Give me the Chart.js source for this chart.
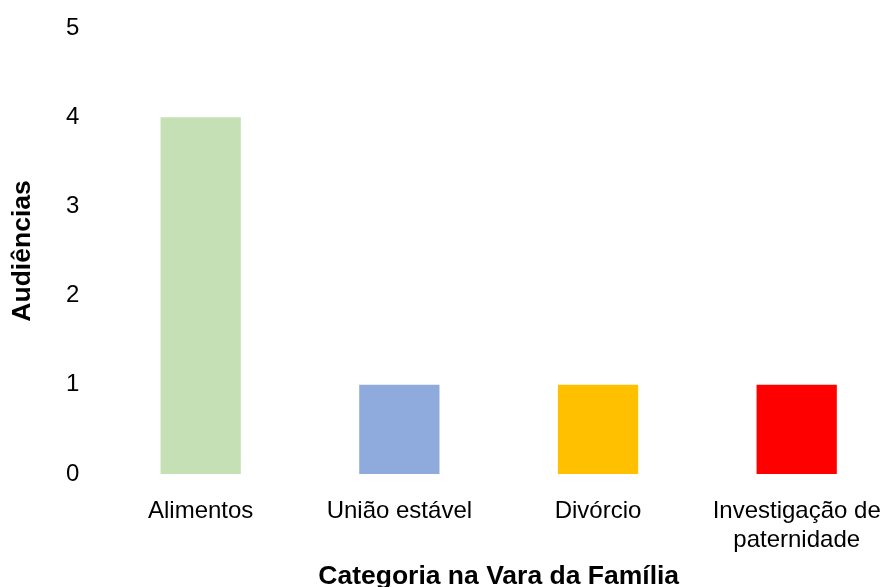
<!DOCTYPE html>
<html>
<head>
<meta charset="utf-8">
<script src="https://cdn.jsdelivr.net/npm/chart.js@4"></script>
<style>
  html, body { margin: 0; padding: 0; background: #fff; overflow: hidden; }
  #wrap { width: 904px; height: 590px; }
</style>
</head>
<body>
<div id="wrap"><canvas id="canva"></canvas></div>
<script>
const categories = ["Alimentos", "União estável", "Divórcio", ["Investigação de", "paternidade"]];
const audiencias = [4, 1, 1, 1];
const barColors = ["#C5E0B4", "#8FAADC", "#FFC000", "#FF0000"];
const yTicks = [0, 1, 2, 3, 4, 5];

const font = "'Liberation Sans', Arial, sans-serif";

const config = {
  type: "bar",
  data: {
    labels: categories,
    datasets: [
      {
        label: "Audiências",
        data: audiencias,
        backgroundColor: barColors,
        barPercentage: 0.404,
        categoryPercentage: 1,
      },
    ],
  },
  options: {
    responsive: true,
    maintainAspectRatio: false,
    animation: false,
    layout: { padding: { top: 1, right: 2, left: 9.5, bottom: 0 } },
    plugins: {
      legend: { display: false },
      tooltip: { enabled: false },
    },
    scales: {
      x: {
        grid: { display: false, drawTicks: false },
        border: { display: false },
        ticks: {
          color: "#000",
          font: { family: font, size: 24, lineHeight: 1.2 },
          padding: 23,
          maxRotation: 0,
        },
        title: {
          display: true,
          text: "Categoria na Vara da Família",
          color: "#000",
          font: { family: font, size: 26.5, weight: "bold", lineHeight: 1 },
          padding: { top: -14, bottom: 0 },
        },
      },
      y: {
        min: 0,
        max: 5,
        afterBuildTicks: (axis) => {
          axis.ticks = yTicks.map((v) => ({ value: v }));
        },
        grid: { display: false, drawTicks: false },
        border: { display: false },
        ticks: {
          color: "#000",
          font: { family: font, size: 24, lineHeight: 0.5 },
          padding: 22,
        },
        title: {
          display: true,
          text: "Audiências",
          color: "#000",
          font: { family: font, size: 26.5, weight: "bold", lineHeight: 1 },
          padding: { top: 0, bottom: 8 },
        },
      },
    },
  },
};
const myChart = new Chart(document.getElementById("canva"), config);
</script>
</body>
</html>
